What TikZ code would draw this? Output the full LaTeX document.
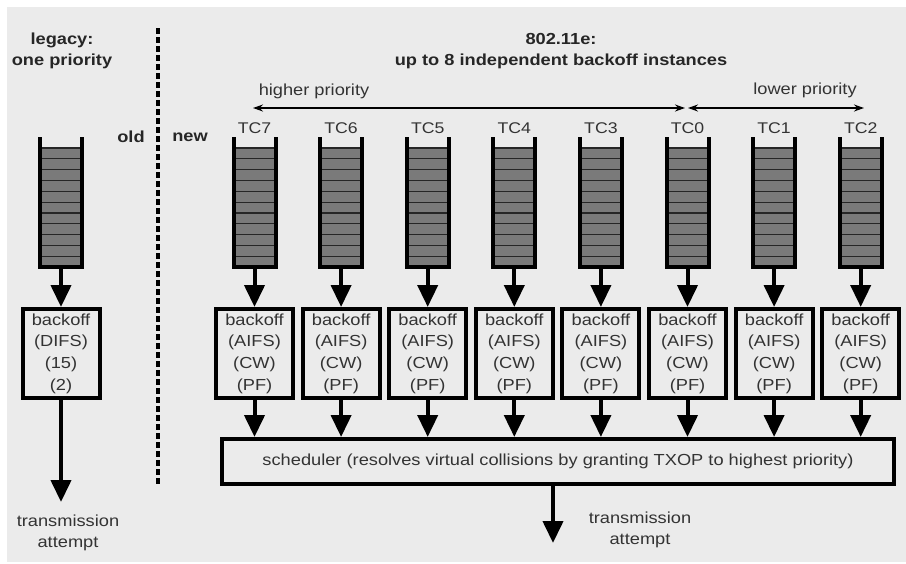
\documentclass[tikz,border=0pt]{standalone}
\usepackage{fontspec}
\newfontfamily\figfont[FakeStretch=1.14]{Liberation Sans}
\usetikzlibrary{arrows.meta}
\definecolor{panel}{HTML}{EBEBEB}
\definecolor{slot}{HTML}{7A7A7A}
\definecolor{txt}{HTML}{333333}
\tikzset{
  flow/.style={line width=4pt,-{Triangle[width=20pt,length=22pt]}},
  prio/.style={line width=1.5pt,{Stealth[length=10pt,width=7pt]}-{Stealth[length=10pt,width=7pt]}},
  bobox/.style={draw,line width=4pt,minimum width=77pt,minimum height=89pt,inner sep=0pt,
    align=center,font=\figfont\fontsize{16}{21.7}\selectfont,text=txt},
  small/.style={font=\figfont\fontsize{16}{21}\selectfont,text=txt},
  title/.style={font=\figfont\bfseries\fontsize{16}{21}\selectfont,text=black!85,align=center}
}
% one queue: #1 = x of its centre, #2 = name of its outlet
\newcommand\queue[2]{
  \fill[slot] (#1-21,148) rectangle (#1+21,267);
  \foreach \k in {0,...,10}
    \draw[line width=1.2pt,black!85] (#1-21,148+\k*10.82) -- (#1+21,148+\k*10.82);
  \draw[line width=4pt] (#1-21,137) -- (#1-21,267) -- (#1+21,267) -- (#1+21,137);
  \coordinate (#2) at (#1,267);
}

\begin{document}
\begin{tikzpicture}[x=1pt,y=-1pt]
  \fill[white] (0,0) rectangle (906,563);
  \fill[panel] (7,7) rectangle (906,562);

  % legacy side
  \node[title] (legacy) at (62,51) {legacy:\\one priority};
  \node[title] (old) at (131,137) {old};
  \queue{61}{q}
  \node[bobox] (lb) at (61,353.5) {backoff\\(DIFS)\\(15)\\(2)};
  \draw[flow] (q) -- (lb.north);
  \coordinate (lout) at (61,502);
  \draw[flow] (lb.south) -- (lout);
  \node[small,align=center] (ltx) at (68,533) {transmission\\attempt};

  \draw[line width=4pt,dash pattern=on 6pt off 3pt] (158,28) -- (158,485);

  % 802.11e side
  \node[title] (new) at (190,137) {new};
  \node[title] (edca) at (561,51) {802.11e:\\up to 8 independent backoff instances};
  \node[small] (hi) at (314,91) {higher priority};
  \node[small] (lo) at (805,90) {lower priority};

  \node[bobox,minimum width=672pt,minimum height=45pt] (sched) at (558,461.5)
    {scheduler (resolves virtual collisions by granting TXOP to highest priority)};

  \foreach \tc [count=\i from 0] in {7,6,5,4,3,0,1,2} {
    \pgfmathsetmacro\cx{254.5+\i*86.6}
    \node[small,font=\figfont\fontsize{15.5}{20}\selectfont] (t\tc) at (\cx,128) {TC\tc};
    \queue{\cx}{q\tc}
    \node[bobox] (b\tc) at (\cx,353.5) {backoff\\(AIFS)\\(CW)\\(PF)};
    \draw[flow] (q\tc) -- (b\tc.north);
    \draw[flow] (b\tc.south) -- (b\tc.south |- sched.north);
  }

  \coordinate (pa) at (253,108);
  \coordinate (pb) at (685,108);
  \coordinate (pc) at (688,108);
  \coordinate (pd) at (864,108);
  \draw[prio] (pa) -- (pb);
  \draw[prio] (pc) -- (pd);

  \coordinate (out) at (553,543);
  \draw[flow] (out |- sched.south) -- (out);
  \node[small,align=center] (tx) at (640,530) {transmission\\attempt};
\end{tikzpicture}
\end{document}
